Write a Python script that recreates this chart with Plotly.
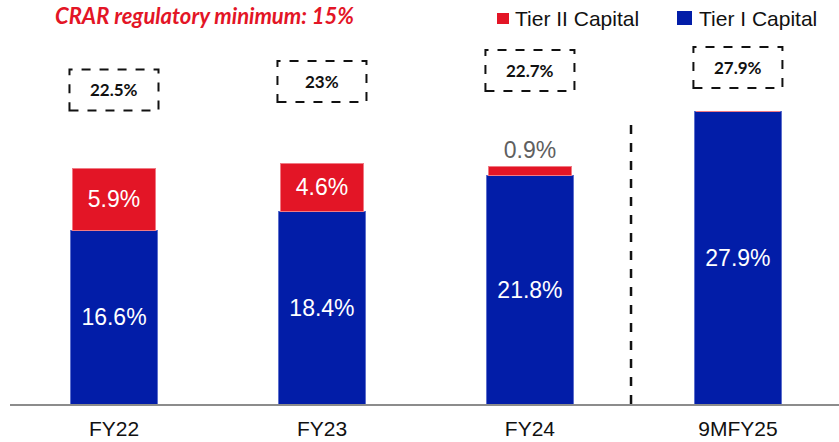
import plotly.graph_objects as go

# Capital adequacy data (%)
periods = ["FY22", "FY23", "FY24", "9MFY25"]
tier1 = [16.6, 18.4, 21.8, 27.9]
tier2 = [5.9, 4.6, 0.9, 0.0]
crar_total = ["22.5%", "23%", "22.7%", "27.9%"]

# Layout constants (pixels / axis units)
W, H = 839, 442
ML, MR, MT, MB = 10, 0, 0, 38
PX_PER_UNIT = 10.47
plot_h = H - MT - MB
y_max = plot_h / PX_PER_UNIT
x_range = [-0.5, 3.486]
bar_w = 0.418
bar_w_t2 = 0.40

BLUE = "#021DA8"
RED = "#E31526"

# Vertical centres (in axis units) of the dashed total boxes
box_y = [30.0, 30.8, 31.85, 32.14]
box_half_w = 0.214
box_half_h = 1.96

xs = list(range(len(periods)))

fig = go.Figure()

fig.add_trace(go.Bar(
    x=xs, y=tier1, width=bar_w, name="Tier I Capital",
    marker=dict(color=BLUE, line=dict(color="#5D6FCC", width=1)),
    text=[f"{v}%" for v in tier1],
    textposition="inside", insidetextanchor="middle",
    textfont=dict(family="Arial, Liberation Sans", size=23, color="white"),
    constraintext="none", showlegend=False,
))

t2_pos = ["inside" if v >= 2 else "outside" for v in tier2]
t2_col = ["white" if v >= 2 else "#5F5F5F" for v in tier2]
fig.add_trace(go.Bar(
    x=xs, y=tier2, width=bar_w_t2, name="Tier II Capital",
    marker=dict(color=RED, line=dict(color="#F07A84", width=1)),
    text=[f"{v}%" if v > 0 else "" for v in tier2],
    textposition=t2_pos, insidetextanchor="middle",
    textfont=dict(family="Arial, Liberation Sans", size=23, color=t2_col),
    constraintext="none", cliponaxis=False, showlegend=False,
))

# Dashed boxes with the total CRAR per period
for x, yc, label in zip(xs, box_y, crar_total):
    fig.add_shape(type="rect", xref="x", yref="y",
                  x0=x - box_half_w, x1=x + box_half_w,
                  y0=yc - box_half_h, y1=yc + box_half_h,
                  line=dict(color="#111111", width=2, dash="dash"),
                  fillcolor="rgba(0,0,0,0)")
    fig.add_annotation(x=x, y=yc, xref="x", yref="y", text=f"<b>{label}</b>",
                       showarrow=False,
                       font=dict(family="Lato", size=17, color="#111111"))

# Separator between full years and the nine-month period
fig.add_shape(type="line", xref="x", yref="y", x0=2.486, x1=2.486,
              y0=0, y1=27.4, line=dict(color="#111111", width=2.5, dash="dash"))


def px_x(p):
    return (p - ML) / (W - ML - MR)


def px_y(p):
    return (MT + plot_h - p) / plot_h


# Heading
fig.add_annotation(xref="paper", yref="paper", x=px_x(204), y=1, yshift=0,
                   text="<b><i>CRAR regulatory minimum: 15%</i></b>",
                   showarrow=False, xanchor="center", yanchor="top",
                   font=dict(family="Lato", size=22, color=RED))

# Legend
legend_items = [("Tier II Capital", RED, 497, 509, 13, 24, 513),
                ("Tier I Capital", BLUE, 677, 692, 11, 25, 697)]
for name, col, x0, x1, y0, y1, tx in legend_items:
    fig.add_shape(type="rect", xref="paper", yref="paper",
                  x0=px_x(x0), x1=px_x(x1), y0=px_y(y1), y1=px_y(y0),
                  line=dict(width=0), fillcolor=col)
    fig.add_annotation(xref="paper", yref="paper", x=px_x(tx), y=px_y(18),
                       text=name, showarrow=False, xanchor="left", yanchor="middle",
                       font=dict(family="Arial, Liberation Sans", size=21, color="#111111"))

fig.update_layout(
    width=W, height=H, barmode="stack",
    margin=dict(l=ML, r=MR, t=MT, b=MB),
    paper_bgcolor="white", plot_bgcolor="white",
    showlegend=False,
    xaxis=dict(range=x_range, tickvals=xs, ticktext=periods,
               showline=True, linecolor="#8C8C8C", linewidth=2,
               showgrid=False, zeroline=False, ticks="",
               ticklabelstandoff=5,
               tickfont=dict(family="Arial, Liberation Sans", size=21, color="#111111")),
    yaxis=dict(range=[0, y_max], visible=False, showgrid=False, zeroline=False),
)

fig.write_html("out.html")
